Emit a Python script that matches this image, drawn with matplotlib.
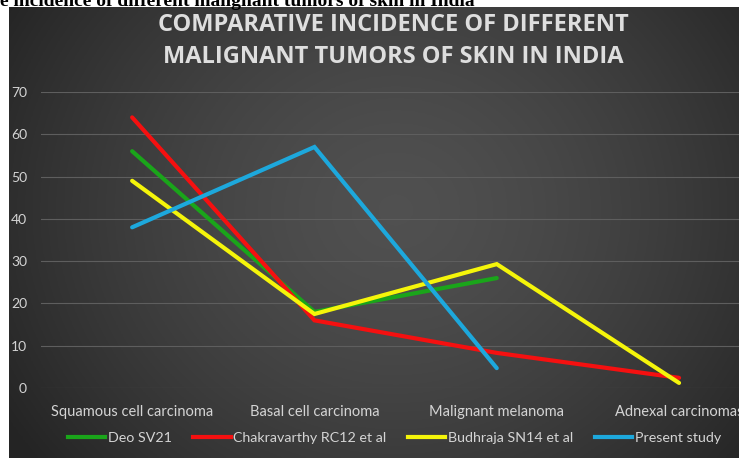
import numpy as np
import matplotlib
matplotlib.use("Agg")
import matplotlib.pyplot as plt
from matplotlib.lines import Line2D

categories = ["Squamous cell carcinoma", "Basal cell carcinoma", "Malignant melanoma", "Adnexal carcinomas"]
series_names = ["Deo SV21", "Chakravarthy RC12 et al", "Budhraja SN14 et al", "Present study"]
deo = [56, 18, 26, None]
chakravarthy = [64, 16, 8.3, 2.4]
budhraja = [49, 17.5, 29.3, 1.2]
present = [38, 57, 4.7, None]
colors = ["#1aa51a", "#f51010", "#f5f50a", "#1da8dc"]
yticks = [0, 10, 20, 30, 40, 50, 60, 70]
title_lines = ["COMPARATIVE INCIDENCE OF DIFFERENT", "MALIGNANT TUMORS OF SKIN IN INDIA"]
caption = "e incidence of different malignant tumors of skin in India"

W, H = 739, 458
fig = plt.figure(figsize=(W / 100, H / 100), dpi=100)
fig.patch.set_facecolor("white")

# dark gradient panel
bg = fig.add_axes([9 / W, 0, 1 - 9 / W, 1 - 7 / H])
bg.set_axis_off()
ny, nx = 200, 300
yy, xx = np.mgrid[0:1:ny * 1j, 0:1:nx * 1j]
r = np.sqrt(((xx - 0.53) / 0.62) ** 2 + ((yy - 0.55) / 0.9) ** 2)
val = 0.315 - 0.17 * np.clip(r, 0, 1) ** 1.5
img = np.dstack([val, val, val])
bg.imshow(img, aspect="auto", extent=[0, 1, 0, 1], origin="lower")
bg.set_xlim(0, 1)
bg.set_ylim(0, 1)

# main axes
left = 41 / W
width = 4 * 182.3 / W
bottom = (H - 388) / H
height = (388 - 92) / H
ax = fig.add_axes([left, bottom, width, height])
ax.set_facecolor("none")
x = np.arange(len(categories))
all_series = [deo, chakravarthy, budhraja, present]
for name, vals, c in zip(series_names, all_series, colors):
    xs = [xi for xi, v in zip(x, vals) if v is not None]
    ys = [v for v in vals if v is not None]
    ax.plot(xs, ys, color=c, lw=3.0, solid_capstyle="round", solid_joinstyle="miter", label=name, zorder=3)

ax.set_xlim(-0.5, 3.5)
ax.set_ylim(0, 70)
ax.set_yticks(yticks)
ax.set_xticks(x)
ax.set_xticklabels(categories)
ax.grid(axis="y", color="#5e5e5e", lw=0.8)
ax.set_axisbelow(True)
for s in ax.spines.values():
    s.set_visible(False)
ax.tick_params(axis="both", length=0, colors="#d4d4d4")
ax.tick_params(axis="y", pad=10, labelsize=10)
ax.tick_params(axis="x", pad=12, labelsize=10.5)
for lab in ax.get_xticklabels() + ax.get_yticklabels():
    lab.set_fontfamily("Lato")

# title
fig.text(393 / W, 1 - 25 / H, title_lines[0], ha="center", va="center",
         color="#dedede", fontsize=17, fontfamily="Open Sans", fontweight="bold")
fig.text(393 / W, 1 - 57 / H, title_lines[1], ha="center", va="center",
         color="#dedede", fontsize=17, fontfamily="Open Sans", fontweight="bold")

# caption cut at top
fig.text(0, 1 - 6 / H, caption, ha="left", va="baseline", color="black",
         fontsize=14, fontfamily="Liberation Serif", fontweight="bold")

handles = [Line2D([0], [0], color=c, lw=3.0) for c in colors]
leg = fig.legend(handles, series_names, loc="center left", bbox_to_anchor=(55 / W, 20 / H),
                 ncol=4, frameon=False, handlelength=2.6, handletextpad=0.2,
                 columnspacing=1.5, labelcolor="#d4d4d4",
                 prop={"family": "Lato", "size": 10.3})

fig.savefig("out.png", dpi=100, facecolor=fig.get_facecolor())
